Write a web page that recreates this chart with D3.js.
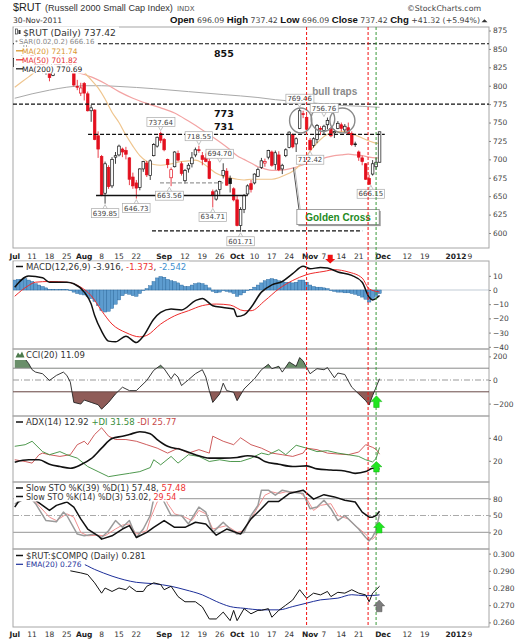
<!DOCTYPE html>
<html>
<head>
<meta charset="utf-8">
<title>$RUT daily</title>
<script src="https://cdn.jsdelivr.net/npm/d3@7/dist/d3.min.js"></script>
<style>
	body { margin: 0; background: #fff; }
	text { font-family: "DejaVu Sans", Verdana, sans-serif; }
	.hdr { font-family: "Liberation Sans", Arial, sans-serif; }
</style>
</head>
<body>
<div class="chart"></div>
<script>
var colors = {
	red: "#e3101e",
	black: "#111",
	ma20: "#efc58e",
	ma20txt: "#d9962f",
	ma50: "#f3a3a3",
	ma50txt: "#e83232",
	ma200: "#a9a9a9",
	frame: "#a6a6a6",
	axis: "#444",
	hist: "#5d9ccf",
	histLine: "#23639a",
	green: "#3b8d3b",
	cciUp: "#6a8f6a",
	cciDown: "#8f5c58",
	sto: "#9a9a9a",
	stoD: "#f29090",
	ema: "#1d2f9a",
	dashRed: "#f21010",
	dashGreen: "#3a9a3a",
	arrowGreen: "#1fe61f"
};

// trading days shown with bars, then the empty days to the right edge
var dates = [
	"7/1","7/5","7/6","7/7","7/8","7/11","7/12","7/13","7/14","7/15","7/18","7/19","7/20","7/21","7/22","7/25","7/26","7/27","7/28","7/29",
	"8/1","8/2","8/3","8/4","8/5","8/8","8/9","8/10","8/11","8/12","8/15","8/16","8/17","8/18","8/19","8/22","8/23","8/24","8/25","8/26","8/29","8/30","8/31",
	"9/1","9/2","9/6","9/7","9/8","9/9","9/12","9/13","9/14","9/15","9/16","9/19","9/20","9/21","9/22","9/23","9/26","9/27","9/28","9/29","9/30",
	"10/3","10/4","10/5","10/6","10/7","10/10","10/11","10/12","10/13","10/14","10/17","10/18","10/19","10/20","10/21","10/24","10/25","10/26","10/27","10/28","10/31",
	"11/1","11/2","11/3","11/4","11/7","11/8","11/9","11/10","11/11","11/14","11/15","11/16","11/17","11/18","11/21","11/22","11/23","11/25","11/28","11/29","11/30"
];
var futureDates = ["12/1","12/2","12/5","12/6","12/7","12/8","12/9","12/12","12/13","12/14","12/15","12/16","12/19","12/20","12/21","12/22","12/23","12/27","12/28","12/29","12/30",
	"1/3","1/4","1/5","1/6","1/9","1/10","1/11","1/12","1/13","1/17"];

var opens = [826,836,835,843,850,845,831,828,831,820,821,814,831,829,837,833,830,818,799,790,
	803,789,766,767,732,704,654,689,664,703,706,714,712,702,676,668,662,687,695,678,705,718,735,
	727,700,675,690,708,694,671,687,694,706,713,705,702,697,656,646,659,678,684,674,660,
	645,610,632,653,667,668,677,689,695,703,710,693,706,687,705,716,734,721,742,762,757,
	726,719,727,742,739,747,742,736,742,747,740,743,735,721,710,702,694,674,680,690,696.09];
var highs = [838,840,842,858,853,847,836,838,836,825,822,831,834,842,841,836,832,819,808,804,
	805,792,774,768,738,706,697,692,703,710,720,716,717,703,682,672,688,698,698,700,722,731,737.64,
	729,701,689,711,712,697,687,695,710,716,718.55,710,708,701,659,659,671,694.70,688,678,662,
	651,635,653,666,672,681,689,702,701,713,712,712,711,694,715,738,735,730,769.46,766,760,
	729,730,748,745,747,756.76,744,741,752,750,748,750,738,724,712,705,695,679,699,702,737.42];
var lows = [824,832,833,842,841,831,825,826,817,815,806,813,826,826,834,828,821,799,794,786,
	780,765,751,726,702,650,639.85,660,661,694,704,703,700,665,660,646.73,658,683,676,672,704,716,722,
	711,688,663.56,689,697,678,667,682,689,703,709,692,696,673,634.71,644,652,674,664,655,643,
	609,601.71,627,650,655,666,676,687,690,700,690,686,684,680,703,715,715,710,741,756,740,
	712.42,716,722,733,733,741,730,729,741,738,736,733,718,717,698,692,672,666.15,678,686,696.09];
var closes = [837,836,840,856,849,832,826,830,819,822,811,830,829,838,839,831,822,801,798,797,
	790,766,770,727,714,651,694,663,700,705,718,710,707,673,664,661,687,697,679,698,720,730,726,
	713,693,686,710,699,681,685,692,702,713,712,700,697,674,652,657,670,685,665,667,645,
	610,632,651,664,659,680,686,698,697,712,692,709,686,692,713,737,717,728,766,762,741,
	713,728,746,741,745,753,732,738,749,742,745,735,720,720.5,703,697,673,666.16,694,696.10,737.42];

// overlays: day index and value
var ma20Day = [0,4,8,12,16,18,20,22,24,26,28,30,32,34,36,38,40,42,44,46,48,50,52,54,56,58,60,62,64,66,68,70,72,74,76,78,80,82,84,86,88,90,92,94,96,98,100,102,104,105];
var ma20Val = [798,812,826,832,832,826,818,808,797,782,764,750,733,718,705,697,693,692,693,695,697,698,699,695,688,681,677,675,673,672,673,673,673,673,675,679,684,692,705,717,727,734,737,738,736,733,729,725,722,721.74];
var ma50Day = [0,10,18,22,26,30,34,38,42,46,50,54,58,62,64,66,68,70,72,74,76,78,80,82,84,86,88,90,92,94,96,98,100,102,104,105];
var ma50Val = [822,825,818,812,803,792,783,776,770,763,752,740,727,713,705,700,695,690,687,685,685,686,688,691,694,697,700,703,705,706,707,706,705,703,702,701.82];
var ma200Day = [0,5,10,15,20,25,30,40,50,60,70,75,80,85,90,95,100,105];
var ma200Val = [783,789,794,798,800,800,799,796,792,788,784,781,779,777,775,773,772,770.69];

// MACD(12,26,9)
var macdDay = [0,4,8,10,15,17,20,22,23,25,27,29,32,35,37,40,42,45,48,52,54,57,60,63,64,66,68,71,74,77,80,83,85,88,90,93,97,100,102,103,105];
var macdVal = [2,9.8,8.6,5.5,5.5,4.4,-1.5,-9.9,-18,-29,-36,-36.5,-32.5,-37,-32.5,-20.6,-15.8,-13.4,-14,-7.5,-5.9,-11.1,-12.3,-13.4,-18.7,-17.5,-12.3,-1.5,3.6,6,11.5,16.7,15,15.8,15.5,12.7,10.3,5.5,-5.1,-7,-3.916];
var signalDay = [0,4,6,10,15,19,22,25,28,32,36,38,42,46,50,54,58,62,66,68,72,76,80,84,89,92,96,100,102,105];
var signalVal = [-4.4,3.2,5.5,6,5.5,2,-4,-14.6,-24,-30,-33,-32,-24,-18.2,-14.6,-11,-9.9,-10.6,-14.6,-14.6,-7.5,0.8,6.7,10.8,13.1,14.3,12.7,8.4,0.8,-1.373];
var histVal = [7,7.5,7.5,8,7,6,4.5,3.5,2.5,1.5,0.5,0.5,0.3,0.5,0.5,0.3,-0.5,-1.5,-2.5,-3,
	-3.5,-4.5,-6,-8,-11,-14.5,-15.5,-15,-13,-10,-7,-4,-2.5,-3,-4,-4.5,-2.5,-0.5,1,3,6,8.5,9.5,
	9,7.5,6.5,6,5,3.5,2.5,2.5,3.5,4.5,5,4.5,3.5,1.5,-1,-2,-1.5,-0.5,-1,-1.5,-2.5,
	-4.5,-3.5,-2,-0.5,0.5,2,3.5,5,6.5,7.5,8,7.5,6.5,6,5.5,5.5,5,5.5,7,7,5.5,
	3.5,2.5,2,2,1.5,1,-0.5,-1,-1.5,-1.5,-2,-2,-2.5,-3,-4,-5,-6.5,-8.5,-6.5,-4.5,-2.542];

// CCI(20)
var cciDay = [0,1,2,3,4,5,6,8,10,12,14,15,16,17,19,20,22,24,25,27,29,31,33,35,36,38,40,42,43,45,46,47,48,50,52,54,55,56,57,59,60,61,63,64,66,68,69,71,73,74,76,77,79,81,82,83,85,87,89,90,92,93,95,97,99,101,102,103,105];
var cciVal = [185,205,200,178,140,87,67,53,-4,39,67,39,-18,-190,-204,-170,-190,-210,-247,-190,-118,-61,-90,-90,-61,-4,82,125,96,10,53,25,-47,2,53,87,25,-90,-190,-118,-27,-90,-104,-175,-76,-18,10,87,133,96,116,67,153,116,190,162,53,96,87,105,19,59,47,-61,-118,-175,-212,-133,11.09];

// ADX(14), +DI, -DI
var adxDay = [0,4,7,10,13,16,19,22,25,28,31,33,36,39,41,44,48,52,56,60,64,67,70,72,76,80,84,87,91,95,98,101,103,105];
var adxVal = [18.8,20.9,20.9,17,15,13.5,16.5,21.8,31,39.4,41.4,42.9,45.2,43.5,38.5,32.6,29.7,25.3,22.3,22.3,22.9,24.4,22.9,19.4,17,15,15.6,13,12,11.2,9.1,10.6,13.5,12.92];
var pdiDay = [0,3,5,7,8,10,13,15,18,21,24,27,30,33,36,39,40,42,45,47,50,53,56,59,62,65,68,71,73,76,78,81,84,87,90,93,96,99,101,103,104,105];
var pdiVal = [32.6,34,37,31,28,25.3,28,25.3,22.3,15,10.6,6.2,7.7,9.1,10.6,14.1,20.9,16.5,23.8,18,25.3,23.8,19.4,20.9,19.4,19.4,22.3,26.7,25.3,29.7,25.3,33.5,31,28,28.8,26.7,25.3,23.8,20.9,19,22,31.58];
var mdiDay = [0,3,5,7,8,10,13,16,18,20,21,23,25,27,29,32,35,38,41,44,47,50,53,56,57,60,63,65,68,71,74,77,80,83,84,87,90,93,96,99,101,103,104,105];
var mdiVal = [20.9,19.4,18,25.3,26.7,25.3,23.8,25.3,34,37,34,42.9,48.7,41.4,38.5,38.5,37,34,31,26.7,31,26.7,29.7,26.7,41.4,37,34,40,34,31,26.7,25.3,23.8,26.7,31,29.7,26.7,25.9,25.3,27.6,34,31.7,30,25.77];

// Slow stochastics
var k39Day = [0,1,3,6,8,10,12,15,17,19,21,24,25,28,31,33,35,38,40,43,46,49,52,55,58,61,65,68,71,73,76,79,83,86,89,92,95,98,100,102,103,104,105];
var k39Val = [65,74,80,77,68,59,68,74,65,44,26,14,8,14,26,32,11,20,29,41,29,29,38,35,15,26,17,44,62,75,75,89,95,79,87,83,77,74,56,47,47,50,57.48];
var k14Day = [0,2,4,6,9,12,14,15,18,20,23,25,27,29,31,33,35,37,39,40,42,43,45,48,50,53,55,57,59,60,62,64,66,68,70,71,73,75,77,79,83,85,87,89,91,93,95,97,99,101,102,103,104,105];
var k14Val = [70,80,85,71,41,39,56,50,17,14,17,11,23,41,29,41,11,26,50,80,95,74,50,50,35,65,56,20,32,38,26,17,20,50,68,95,95,86,95,92,89,62,65,77,62,41,50,38,26,11,5,12,24,53.02];
var d3Day = [0,3,6,10,12,15,17,19,21,24,26,29,31,33,35,38,39,41,43,44,46,49,51,53,55,57,59,61,64,66,68,70,72,74,76,78,82,84,86,88,91,93,96,98,101,102,103,104,105];
var d3Val = [78,82,74,47,41,53,47,20,14,15,14,26,33,35,17,23,44,74,86,71,53,47,41,59,53,26,29,32,20,23,44,65,86,92,89,92,91,80,59,68,71,50,44,32,17,10,8,14,29.54];

// $RUT:$COMPQ and its EMA(20)
var ratioDay = [16,19,21,23,25,26,28,30,32,33,35,37,38,40,42,43,45,47,49,52,54,56,58,60,62,63,64,66,68,70,71,73,74,76,78,80,82,84,86,88,90,91,93,95,97,99,101,102,103,105];
var ratioVal = [0.290,0.2888,0.2878,0.283,0.277,0.280,0.278,0.280,0.279,0.281,0.278,0.278,0.281,0.283,0.282,0.279,0.281,0.275,0.272,0.272,0.269,0.262,0.262,0.266,0.261,0.267,0.261,0.268,0.265,0.267,0.267,0.268,0.263,0.267,0.270,0.273,0.279,0.274,0.277,0.276,0.278,0.275,0.2775,0.277,0.279,0.277,0.276,0.272,0.277,0.281];
var emaDay = [16,19,23,28,35,40,45,49,54,58,62,66,71,76,80,84,88,93,97,101,105];
var emaVal = [0.2948,0.2943,0.2908,0.2869,0.2833,0.2825,0.281,0.279,0.276,0.2722,0.2692,0.2682,0.2673,0.2673,0.2692,0.2712,0.2731,0.2741,0.2761,0.2755,0.276];

// hand drawn notes on the price panel
var noteText = ["769.46","756.76","737.64","718.55","694.70","712.42","639.85","646.73","663.56","634.71","601.71","666.15"];
var noteDay = [82,89,42,53,59,85,26,35,44.5,57,65,102.5];
var notePrice = [769.46,756.76,737.64,718.55,694.70,712.42,639.85,646.73,663.56,634.71,601.71,666.15];
var noteAbove = [true,true,true,true,true,false,false,false,false,false,false,false];

var levelPrice = [857, 775, 734];
var levelText = ["855", "773", "731"];
var levelFrom = [-0.5, -0.5, 21.1];
var levelTo = [136.5, 136.5, 106.5];
var segPrice = [651, 668, 603];
var segFrom = [23.4, 41.8, 39.5];
var segTo = [66.8, 60, 100];

var trapDay = [82.3, 88.7, 94.3];
var trapPrice = [752.8, 754.8, 752.8];
var trapHalfDays = [3.2, 3.4, 3.6];
var vlineDay = [84, 101.7, 104];

// ---------------- layout
var W = 529, H = 640;
var plotLeft = 13, plotRight = 489;
var panels = [
	{name: "price", top: 27, bottom: 248},
	{name: "macd", top: 261, bottom: 349},
	{name: "cci", top: 349, bottom: 416},
	{name: "adx", top: 416, bottom: 482},
	{name: "sto", top: 482, bottom: 549},
	{name: "ratio", top: 549, bottom: 627}
];

var allDates = dates.concat(futureDates);
var x = d3.scaleLinear().domain([-0.5, allDates.length - 0.5]).range([plotLeft, plotRight]);
var step = x(1) - x(0);

var yPrice = d3.scaleLinear().domain([600, 875]).range([233, 30.5]);
var yMacd = d3.scaleLinear().domain([-40, 10]).range([346.8, 275.8]);
var yCci = d3.scaleLinear().domain([-200, 200]).range([403.6, 356.4]);
var yAdx = d3.scaleLinear().domain([20, 40]).range([460.8, 437.8]);
var ySto = d3.scaleLinear().domain([20, 80]).range([532.4, 498.6]);
var yRatio = d3.scaleLinear().domain([0.26, 0.30]).range([622.4, 553.6]);

var svg = d3.select(".chart").append("svg")
		.attr("width", W)
		.attr("height", H)
		.style("display", "block");

svg.append("rect").attr("width", W).attr("height", H).attr("fill", "#fff");

var defs = svg.append("defs");
panels.forEach(function(p){
	defs.append("clipPath").attr("id", "clip-" + p.name)
		.append("rect")
			.attr("x", plotLeft).attr("y", p.top)
			.attr("width", plotRight - plotLeft).attr("height", p.bottom - p.top);
});

function panelGroup(name){
	return svg.append("g").attr("clip-path", "url(#clip-" + name + ")");
}

function pairs(days, vals){
	return days.map(function(d, i){ return [d, vals[i]]; });
}

function drawLine(g, days, vals, yScale, color, width, smooth){
	var line = d3.line()
		.x(function(d){ return x(d[0]); })
		.y(function(d){ return yScale(d[1]); })
		.curve(smooth ? d3.curveMonotoneX : d3.curveLinear);
	return g.append("path")
		.datum(pairs(days, vals))
		.attr("d", line)
		.attr("fill", "none")
		.attr("stroke", color)
		.attr("stroke-width", width)
		.attr("stroke-linejoin", "round");
}

function hline(g, yPos, color, dash, width){
	g.append("line")
		.attr("x1", plotLeft).attr("x2", plotRight)
		.attr("y1", yPos).attr("y2", yPos)
		.attr("stroke", color)
		.attr("stroke-width", width || 1)
		.attr("stroke-dasharray", dash || null);
}

// legend row with white backing, parts = [[text, color, bold], ...]
function legendRow(g, xPos, yPos, size, parts){
	var row = g.append("g");
	var t = row.append("text").attr("x", xPos).attr("y", yPos).style("font-size", size + "px");
	parts.forEach(function(p){
		t.append("tspan").attr("fill", p[1]).style("font-weight", p[2] ? "bold" : null).text(p[0]);
	});
	var bb = t.node().getBBox();
	row.insert("rect", "text")
		.attr("x", plotLeft + 1)
		.attr("y", bb.y)
		.attr("width", bb.x + bb.width + 2 - plotLeft)
		.attr("height", bb.height)
		.attr("fill", "#fff");
	return row;
}

function legendDash(g, yPos, color, width){
	g.append("line")
		.attr("x1", 16).attr("x2", 23)
		.attr("y1", yPos).attr("y2", yPos)
		.attr("stroke", color).attr("stroke-width", width || 1.5);
}

function yAxis(yScale, values, fmt){
	var ax = svg.append("g")
		.attr("transform", "translate(" + plotRight + ",0)")
		.call(d3.axisRight(yScale).tickValues(values).tickSize(2).tickPadding(2).tickFormat(fmt));
	ax.select(".domain").remove();
	ax.selectAll("line").attr("stroke", "#888");
	ax.selectAll("text").attr("fill", colors.axis).style("font-size", "7.5px").style("font-family", "'DejaVu Sans', Verdana, sans-serif");
}

function blockArrow(cx, yTip, yBase, w){
	var yNeck = yTip + (yBase - yTip) * 0.5;
	return "M" + cx + "," + yTip +
		"L" + (cx + w / 2) + "," + yNeck +
		"L" + (cx + w / 4) + "," + yNeck +
		"L" + (cx + w / 4) + "," + yBase +
		"L" + (cx - w / 4) + "," + yBase +
		"L" + (cx - w / 4) + "," + yNeck +
		"L" + (cx - w / 2) + "," + yNeck + "Z";
}

// ---------------- header
svg.append("text").attr("class", "hdr").attr("x", 13).attr("y", 10.5)
	.style("font-size", "10.8px").attr("fill", "#222").text("$RUT");
svg.append("text").attr("class", "hdr").attr("x", 45).attr("y", 10.5)
	.style("font-size", "9.1px").attr("fill", "#333").text("(Russell 2000 Small Cap Index)");
svg.append("text").attr("x", 177).attr("y", 10.5)
	.style("font-size", "7px").attr("fill", "#555").text("INDX");
svg.append("text").attr("x", 481).attr("y", 11).attr("text-anchor", "end")
	.style("font-size", "7.8px").attr("fill", "#444").text("\u00a9StockCharts.com");
svg.append("text").attr("x", 13).attr("y", 22.7)
	.style("font-size", "7.6px").attr("fill", "#333").text("30-Nov-2011");

var quote = svg.append("text").attr("x", 480).attr("y", 22.7)
	.attr("text-anchor", "end").attr("fill", "#222");
[["Open", 1], [" " + opens[105].toFixed(2) + "  ", 0], ["High", 1], [" " + highs[105].toFixed(2) + "  ", 0],
	["Low", 1], [" " + lows[105].toFixed(2) + "  ", 0], ["Close", 1], [" " + closes[105].toFixed(2) + "  ", 0],
	["Chg", 1], [" +41.32 (+5.94%)", 0]].forEach(function(p){
	quote.append("tspan")
		.style("font-family", p[1] ? "'Liberation Sans', Arial, sans-serif" : "'DejaVu Sans', Verdana, sans-serif")
		.style("font-size", p[1] ? "9.6px" : "7.8px")
		.style("font-weight", p[1] ? "bold" : "normal")
		.attr("fill", p[1] ? "#111" : "#444")
		.text(p[0]);
});
svg.append("path").attr("d", "M484.5,19.3L487.5,22.3L481.5,22.3Z").attr("fill", "#333");

// ---------------- panel frames
panels.forEach(function(p){
	svg.append("rect")
		.attr("x", plotLeft).attr("y", p.top)
		.attr("width", plotRight - plotLeft).attr("height", p.bottom - p.top)
		.attr("fill", "none").attr("stroke", colors.frame).attr("stroke-width", 1);
});

// ---------------- price panel
var gp = panelGroup("price");

drawLine(gp, ma200Day, ma200Val, yPrice, colors.ma200, 1, true);
drawLine(gp, ma50Day, ma50Val, yPrice, colors.ma50, 1.2, true);
drawLine(gp, ma20Day, ma20Val, yPrice, colors.ma20, 1.2, true);

var candles = dates.map(function(d, i){
	return {i: i, o: opens[i], h: highs[i], l: lows[i], c: closes[i], prev: i ? closes[i - 1] : opens[i]};
});
var bodyW = 2.6;
var candle = gp.selectAll(".candle")
	.data(candles)
	.enter().append("g")
		.attr("class", "candle");

candle.append("line")
	.attr("x1", function(d){ return x(d.i); })
	.attr("x2", function(d){ return x(d.i); })
	.attr("y1", function(d){ return yPrice(d.h); })
	.attr("y2", function(d){ return yPrice(d.l); })
	.attr("stroke", function(d){ return d.c >= d.prev ? colors.black : colors.red; })
	.attr("stroke-width", 0.8);

candle.append("rect")
	.attr("x", function(d){ return x(d.i) - bodyW / 2; })
	.attr("width", bodyW)
	.attr("y", function(d){ return yPrice(Math.max(d.o, d.c)); })
	.attr("height", function(d){ return Math.max(0.8, Math.abs(yPrice(d.o) - yPrice(d.c))); })
	.attr("fill", function(d){
		if (d.c > d.o) return "#fff";
		return d.c >= d.prev ? colors.black : colors.red;
	})
	.attr("stroke", function(d){ return d.c >= d.prev ? colors.black : colors.red; })
	.attr("stroke-width", 0.7);

// legend
var lg = svg.append("g");
legendRow(lg, 23, 35.5, 9.2, [["$RUT (Daily) 737.42", "#333"]]);
lg.append("rect").attr("x", 15.5).attr("y", 29).attr("width", 2).attr("height", 5).attr("fill", "none").attr("stroke", "#333").attr("stroke-width", 0.7);
lg.append("rect").attr("x", 18.5).attr("y", 30).attr("width", 2).attr("height", 4).attr("fill", "#333");
legendRow(lg, 19, 43.5, 7, [["SAR(0.02,0.2) 666.16", "#888"]]);
lg.append("circle").attr("cx", 16.5).attr("cy", 41.2).attr("r", 1).attr("fill", "#888");
legendRow(lg, 22, 53.5, 7.5, [["MA(20) 721.74", colors.ma20txt]]);
legendDash(lg, 50.8, colors.ma20txt, 1.3);
legendRow(lg, 22, 62.5, 7.5, [["MA(50) 701.82", colors.ma50txt]]);
legendDash(lg, 59.8, colors.ma50txt, 1.3);
legendRow(lg, 22, 71.5, 7.5, [["MA(200) 770.69", "#222"]]);
legendDash(lg, 68.8, "#222", 1.3);

// drawn levels
levelPrice.forEach(function(p, k){
	gp.append("line")
		.attr("x1", x(levelFrom[k])).attr("x2", x(levelTo[k]))
		.attr("y1", yPrice(p)).attr("y2", yPrice(p))
		.attr("stroke", "#111").attr("stroke-width", 1.2).attr("stroke-dasharray", "4,2");
	gp.append("text")
		.attr("x", x(60.2)).attr("y", yPrice(p) + (k < 2 ? 13 : -4))
		.attr("text-anchor", "middle")
		.style("font-size", "9.5px").style("font-weight", "bold")
		.attr("fill", "#111").text(levelText[k]);
});
segPrice.forEach(function(p, k){
	gp.append("line")
		.attr("x1", x(segFrom[k])).attr("x2", x(segTo[k]))
		.attr("y1", yPrice(p)).attr("y2", yPrice(p))
		.attr("stroke", k == 1 ? "#999" : "#111")
		.attr("stroke-width", k == 0 ? 1.4 : 1.2)
		.attr("stroke-dasharray", k == 0 ? null : "4,2");
});

// bull trap circles
trapDay.forEach(function(d, k){
	gp.append("ellipse")
		.attr("cx", x(d)).attr("cy", yPrice(trapPrice[k]))
		.attr("rx", x(d + trapHalfDays[k]) - x(d))
		.attr("ry", 12.5)
		.attr("fill", "none").attr("stroke", "#8a8a8a").attr("stroke-width", 1.4);
});
gp.append("text")
	.attr("class", "hdr")
	.attr("x", x(92.1)).attr("y", yPrice(792) + 3.5)
	.attr("text-anchor", "middle")
	.style("font-size", "10px").style("font-weight", "bold")
	.attr("fill", "#8a8a8a").text("bull traps");

// price notes
noteText.forEach(function(t, k){
	var px = x(noteDay[k]), py = yPrice(notePrice[k]);
	var g = gp.append("g");
	var dir = noteAbove[k] ? -1 : 1;
	var boxMid = py + dir * 9.5;
	g.append("path")
		.attr("d", "M" + (px - 2.5) + "," + (boxMid - dir * 4) + "L" + px + "," + (py + dir * 1) + "L" + (px + 2.5) + "," + (boxMid - dir * 4))
		.attr("fill", "#fff").attr("stroke", "#aaa").attr("stroke-width", 0.7);
	var tx = g.append("text")
		.attr("x", px).attr("y", boxMid + 2.5)
		.attr("text-anchor", "middle")
		.style("font-size", "7px").attr("fill", "#444").text(t);
	var bb = tx.node().getBBox();
	g.insert("rect", "text")
		.attr("x", bb.x - 1.5).attr("y", boxMid - 4.5)
		.attr("width", bb.width + 3).attr("height", 9)
		.attr("fill", "#fff").attr("stroke", "#aaa").attr("stroke-width", 0.7);
});

// golden cross callout
gp.append("line")
	.attr("x1", x(80.2)).attr("y1", yPrice(689))
	.attr("x2", x(81.8)).attr("y2", yPrice(632))
	.attr("stroke", "#555").attr("stroke-width", 1);
gp.append("line")
	.attr("x1", x(80.2) + 1.3).attr("y1", yPrice(689))
	.attr("x2", x(81.8) + 1.3).attr("y2", yPrice(632))
	.attr("stroke", "#bbb").attr("stroke-width", 1);
gp.append("rect")
	.attr("x", x(81.2) + 1.5).attr("y", yPrice(632) + 1.5)
	.attr("width", x(104.9) - x(81.2)).attr("height", yPrice(611.4) - yPrice(632))
	.attr("fill", "#999");
gp.append("rect")
	.attr("x", x(81.2)).attr("y", yPrice(632))
	.attr("width", x(104.9) - x(81.2)).attr("height", yPrice(611.4) - yPrice(632))
	.attr("fill", "#fff").attr("stroke", "#888").attr("stroke-width", 0.8);
gp.append("text")
	.attr("class", "hdr")
	.attr("x", (x(81.2) + x(104.9)) / 2).attr("y", yPrice(621.7) + 3.6)
	.attr("text-anchor", "middle")
	.style("font-size", "10px").style("font-weight", "bold")
	.attr("fill", "#238a23").text("Golden Cross");

yAxis(yPrice, d3.range(600, 876, 25), d3.format("d"));

// ---------------- date axes
var days = allDates.map(function(s){
	var p = s.split("/"), m = +p[0];
	return new Date(m >= 7 ? 2011 : 2012, m - 1, +p[1]);
});
var monthTicks = [], weekTicks = [];
days.forEach(function(d, i){
	var prev = i ? days[i - 1] : null;
	if (!prev || prev.getMonth() != d.getMonth()) monthTicks.push(i);
	if (!prev || d3.timeMonday.floor(prev).getTime() != d3.timeMonday.floor(d).getTime()) weekTicks.push(i);
});
weekTicks = weekTicks.filter(function(w){
	return x(w) < 480 && !monthTicks.some(function(m){ return m - w <= 4 && m - w >= -2; });
});

function dateAxis(yPos){
	var g = svg.append("g");
	monthTicks.forEach(function(i){
		var d = days[i];
		g.append("text")
			.attr("x", x(i)).attr("y", yPos)
			.attr("text-anchor", "middle")
			.style("font-size", "7.5px").style("font-weight", "bold")
			.attr("fill", "#222")
			.text(d.getMonth() == 0 ? d.getFullYear() : d3.timeFormat("%b")(d));
	});
	weekTicks.forEach(function(i){
		g.append("text")
			.attr("x", x(i)).attr("y", yPos)
			.attr("text-anchor", "middle")
			.style("font-size", "7.5px")
			.attr("fill", "#333")
			.text(days[i].getDate());
	});
}
dateAxis(258.5);
dateAxis(637);

// ---------------- MACD
var gm = panelGroup("macd");
hline(gm, yMacd(0), "#9ab", null, 0.6);
gm.selectAll(".bar")
	.data(histVal)
	.enter().append("rect")
		.attr("class", "bar")
		.attr("x", function(d, i){ return x(i) - step / 2; })
		.attr("width", step)
		.attr("y", function(d){ return Math.min(yMacd(d), yMacd(0)); })
		.attr("height", function(d){ return Math.abs(yMacd(d) - yMacd(0)); })
		.attr("fill", colors.hist)
		.attr("stroke", colors.histLine)
		.attr("stroke-width", 0.4);
drawLine(gm, signalDay, signalVal, yMacd, "#ee2a2a", 1, true);
drawLine(gm, macdDay, macdVal, yMacd, colors.black, 1.5, true);
var lm = svg.append("g");
legendRow(lm, 26, 269.5, 8.5, [["MACD(12,26,9) -3.916, ", "#333"], ["-1.373", "#e33"], [", ", "#333"], ["-2.542", "#3d8fd0"]]);
legendDash(lm, 266.5, "#111");
yAxis(yMacd, [10, 0, -10, -20, -30, -40], d3.format("d"));

// ---------------- CCI
var gc = panelGroup("cci");
defs.append("clipPath").attr("id", "cci-up").append("rect")
	.attr("x", plotLeft).attr("y", 349).attr("width", plotRight - plotLeft).attr("height", yCci(100) - 349);
defs.append("clipPath").attr("id", "cci-down").append("rect")
	.attr("x", plotLeft).attr("y", yCci(-100)).attr("width", plotRight - plotLeft).attr("height", 416 - yCci(-100));
var cciPts = pairs(cciDay, cciVal);
gc.append("path").datum(cciPts)
	.attr("clip-path", "url(#cci-up)")
	.attr("d", d3.area().x(function(d){ return x(d[0]); }).y0(yCci(100)).y1(function(d){ return yCci(d[1]); }))
	.attr("fill", colors.cciUp);
gc.append("path").datum(cciPts)
	.attr("clip-path", "url(#cci-down)")
	.attr("d", d3.area().x(function(d){ return x(d[0]); }).y0(yCci(-100)).y1(function(d){ return yCci(d[1]); }))
	.attr("fill", colors.cciDown);
hline(gc, yCci(100), "#8a8a8a", null, 1);
hline(gc, yCci(-100), "#6a4a48", null, 1);
hline(gc, yCci(0), "#999", "6,2,1,2", 1);
drawLine(gc, cciDay, cciVal, yCci, "#222", 0.9, false);
var lc = svg.append("g");
legendRow(lc, 26, 358, 8.5, [["CCI(20) 11.09", "#333"]]);
lc.append("path").attr("d", "M15.5,357.5L18,352.5L20,355L22,351.5L24.5,357.5Z").attr("fill", "#4c7a4c");
yAxis(yCci, [200, 0, -200], d3.format("d"));

// ---------------- ADX
var ga = panelGroup("adx");
drawLine(ga, mdiDay, mdiVal, yAdx, "#c84a4a", 0.9, false);
drawLine(ga, pdiDay, pdiVal, yAdx, colors.green, 0.9, false);
drawLine(ga, adxDay, adxVal, yAdx, colors.black, 1.6, true);
var la = svg.append("g");
legendRow(la, 26, 425, 8.5, [["ADX(14) 12.92 ", "#333"], ["+DI 31.58 ", colors.green], ["-DI 25.77", "#c84a4a"]]);
legendDash(la, 422, "#111");
yAxis(yAdx, [40, 20], d3.format("d"));

// ---------------- Stochastics
var gs = panelGroup("sto");
hline(gs, ySto(80), "#aaa", null, 1.2);
hline(gs, ySto(20), "#aaa", null, 1.2);
hline(gs, ySto(50), "#aaa", "6,2,1,2", 1.2);
drawLine(gs, d3Day, d3Val, ySto, colors.stoD, 1, false);
drawLine(gs, k14Day, k14Val, ySto, colors.sto, 1.5, false);
drawLine(gs, k39Day, k39Val, ySto, colors.black, 1.5, false);
var ls = svg.append("g");
legendRow(ls, 26, 491, 8.5, [["Slow STO %K(39) %D(1) 57.48, ", "#333"], ["57.48", "#e33"]]);
legendDash(ls, 488, "#111");
legendRow(ls, 26, 499.5, 8, [["Slow STO %K(14) %D(3) 53.02, ", "#333"], ["29.54", "#e33"]]);
legendDash(ls, 496.5, "#111");
yAxis(ySto, [80, 50, 20], d3.format("d"));

// ---------------- ratio
var gr = panelGroup("ratio");
drawLine(gr, emaDay, emaVal, yRatio, colors.ema, 1, true);
drawLine(gr, ratioDay, ratioVal, yRatio, colors.black, 1, false);
var lr = svg.append("g");
legendRow(lr, 26, 558.5, 8.5, [["$RUT:$COMPQ (Daily) 0.281", "#333"]]);
legendDash(lr, 555.5, "#111");
legendRow(lr, 26, 567, 7.5, [["EMA(20) 0.276", colors.ema]]);
legendDash(lr, 564.3, colors.ema, 1.2);
yAxis(yRatio, [0.30, 0.29, 0.28, 0.27, 0.26], d3.format(".3f"));

// ---------------- vertical markers and arrows
vlineDay.forEach(function(d, k){
	svg.append("line")
		.attr("x1", x(d)).attr("x2", x(d))
		.attr("y1", 27).attr("y2", 627)
		.attr("stroke", k < 2 ? colors.dashRed : colors.dashGreen)
		.attr("stroke-width", 1)
		.attr("stroke-dasharray", "3,2");
});

svg.append("path").attr("d", blockArrow(x(90.8), yMacd(18.7), yMacd(24.8), 10)).attr("fill", "#f01010");
svg.append("path").attr("d", blockArrow(x(104.1), yCci(-133), yCci(-233), 11))
	.attr("fill", colors.arrowGreen).attr("stroke", "#12b012").attr("stroke-width", 0.5);
svg.append("path").attr("d", blockArrow(x(104.1), yAdx(19.4), yAdx(10.3), 11))
	.attr("fill", colors.arrowGreen).attr("stroke", "#12b012").attr("stroke-width", 0.5);
svg.append("path").attr("d", blockArrow(x(104.9), ySto(38.5), ySto(19), 11))
	.attr("fill", colors.arrowGreen).attr("stroke", "#12b012").attr("stroke-width", 0.5);
svg.append("path").attr("d", blockArrow(x(104.9), yRatio(0.2730), yRatio(0.2662), 11))
	.attr("fill", "#7d7d7d").attr("stroke", "#555").attr("stroke-width", 0.5);
</script>
</body>
</html>
